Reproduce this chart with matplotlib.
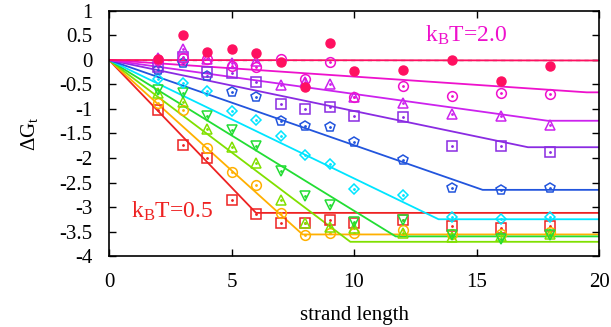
import numpy as np
import matplotlib
matplotlib.use("Agg")
import matplotlib.pyplot as plt

plt.rcParams['font.family'] = ['Liberation Serif', 'DejaVu Serif']
plt.rcParams['mathtext.fontset'] = 'custom'
plt.rcParams['mathtext.rm'] = 'Liberation Serif'
plt.rcParams['mathtext.it'] = 'Liberation Serif'

# strand lengths where points were sampled
lengths = [2, 3, 4, 5, 6, 7, 8, 9, 10, 12, 14, 16, 18]

# simulation points, kBT = 0.5 ... 2.0
dg_red = [-1.03, -1.73, -1.99, -2.86, -3.14, -3.33, -3.33, -3.27, -3.32, -3.27, -3.39, -3.42, -3.39]
dg_orange = [-0.87, -1.02, -1.79, -2.29, -2.55, -3.13, -3.57, -3.54, -3.54, -3.47, -3.55, -3.55, -3.50]
dg_lime = [-0.68, -0.85, -1.41, -1.77, -2.11, -2.86, -3.33, -3.40, -3.42, -3.54, -3.62, -3.60, -3.55]
dg_green = [-0.61, -0.68, -1.14, -1.43, -1.76, -2.27, -2.78, -2.96, -3.30, -3.27, -3.57, -3.66, -3.57]
dg_cyan = [-0.39, -0.46, -0.63, -1.05, -1.22, -1.55, -1.94, -2.13, -2.63, -2.76, -3.20, -3.24, -3.21]
dg_blue = [-0.20, -0.07, -0.33, -0.65, -0.76, -1.24, -1.35, -1.36, -1.67, -2.04, -2.62, -2.65, -2.62]
dg_purple = [-0.14, 0.07, -0.25, -0.26, -0.44, -0.90, -0.99, -0.95, -1.14, -1.16, -1.76, -1.76, -1.87]
dg_violet = [0.05, 0.22, 0.03, -0.07, -0.03, -0.52, -0.45, -0.49, -0.75, -0.87, -1.11, -1.14, -1.33]
dg_magenta = [0.00, 0.05, 0.02, -0.12, -0.15, 0.03, -0.39, -0.05, -0.75, -0.54, -0.73, -0.67, -0.69]
dg_pink = [0.03, 0.51, 0.16, 0.22, 0.14, -0.05, -0.56, 0.35, -0.22, -0.20, 0.01, -0.43, -0.12]

# theory lines: linear drop from 0 until break length, then flat plateau
breaks = [6.0, 7.9, 9.85, 11.7, 13.45, 15.25, 17.1, 17.9, 19.5, 20.0]
plateaus = [-3.12, -3.56, -3.71, -3.60, -3.25, -2.65, -1.78, -1.24, -0.66, -0.01]

colors = ['#ee2222', '#ffb000', '#80e000', '#22dd33', '#00e5ff',
          '#2255dd', '#8a2be2', '#cc22ee', '#ee11cc', '#ff1060']
markers = ['s', 'o', '^', 'v', 'D', 'p', 's', '^', 'o', 'o']
sizes = [7, 7, 7, 7, 5.5, 7, 7, 7, 7, 6.5]
series = [dg_red, dg_orange, dg_lime, dg_green, dg_cyan,
          dg_blue, dg_purple, dg_violet, dg_magenta, dg_pink]

fig = plt.figure(figsize=(6.11, 3.27), dpi=100)
ax = fig.add_axes([0.1784, 0.2171, 0.802, 0.7493])

ax.axhline(0, color='#888888', lw=1, ls=(0, (3, 3)), zorder=1)

for i, ys in enumerate(series):
    c = colors[i]
    ax.plot([0, breaks[i], 20], [0, plateaus[i], plateaus[i]], color=c, lw=1.3, zorder=2)
    if i == len(series) - 1:
        ax.plot(lengths, ys, ls='none', marker='o', ms=sizes[i], color=c, mec=c, zorder=3)
    else:
        ax.plot(lengths, ys, ls='none', marker=markers[i], ms=sizes[i], mfc='none',
                mec=c, mew=1.1, zorder=3)
        ax.plot(lengths, ys, ls='none', marker='.', ms=2, color=c, zorder=3)

ax.text(0.9, -3.08, r'k$_\mathrm{B}$T=0.5', color=colors[0], fontsize=17, va='center')
ax.text(12.9, 0.5, r'k$_\mathrm{B}$T=2.0', color=colors[8], fontsize=17, va='center')

ax.set_xlim(0, 20)
ax.set_ylim(-4, 1)
ax.set_xticks([0, 5, 10, 15, 20])
ax.set_yticks(np.arange(-4, 1.01, 0.5))
ax.set_yticklabels(['-4', '-3.5', '-3', '-2.5', '-2', '-1.5', '-1', '-0.5', '0', '0.5', '1'])
ax.tick_params(direction='in', top=True, right=True, length=5, width=1, labelsize=15)
ax.tick_params(axis='x', pad=12)
ax.tick_params(axis='y', pad=12)
for s in ax.spines.values():
    s.set_linewidth(1.2)

ax.set_xlabel('strand length', fontsize=15, labelpad=10)
ax.set_ylabel(r'$\Delta$G$_\mathrm{t}$', fontsize=15, labelpad=14)

fig.savefig('out.png', dpi=100)
